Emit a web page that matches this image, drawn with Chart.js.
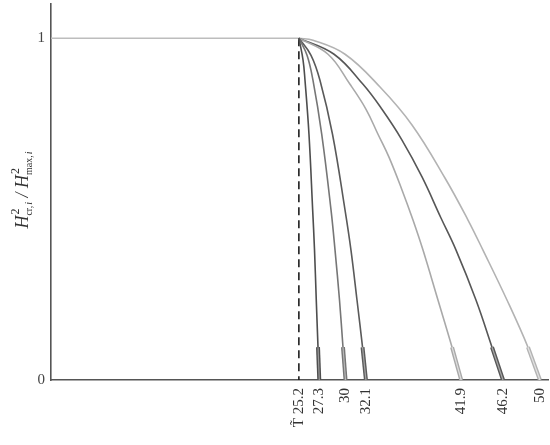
<!DOCTYPE html>
<html>
<head>
<meta charset="utf-8">
<script src="https://cdn.jsdelivr.net/npm/chart.js@4/dist/chart.umd.min.js"></script>
<style>
  html, body { margin: 0; padding: 0; background: #fff; }
  #wrap { width: 550px; height: 445px; }
</style>
</head>
<body>
<div id="wrap"><canvas id="c"></canvas></div>
<script>
// tick positions and labels
const xTicks      = [25.2, 27.3, 30, 32.1, 41.9, 46.2, 50];
const xTickLabels = ['T\u0303 25.2', '27.3', '30', '32.1', '41.9', '46.2', '50'];
const yTicks      = [0, 1];

// flat part and the dashed marker
const plateauX = [-0.3, 25.2];
const plateauY = [1, 1];
const dashX    = [25.2, 25.2];
const dashY    = [1, 0];

// curves
const c273X = [25.2, 25.63, 25.83, 26.24, 26.62, 26.81, 26.99, 27.17, 27.3];
const c273Y = [1, 0.936, 0.877, 0.719, 0.497, 0.380, 0.234, 0.096, 0];
const c30X  = [25.2, 26.04, 26.65, 27.55, 28.51, 28.92, 29.38, 29.74, 30];
const c30Y  = [1, 0.95, 0.877, 0.719, 0.497, 0.380, 0.234, 0.096, 0];
const c321X = [25.2, 26.45, 27.37, 28.66, 29.95, 30.56, 31.18, 31.75, 32.1];
const c321Y = [1, 0.95, 0.877, 0.719, 0.497, 0.380, 0.234, 0.096, 0];
const c419X = [25.2, 28.2, 30.46, 32.11, 33.34, 34.47, 35.81, 36.94, 37.97, 39.51, 40.96, 41.9];
const c419Y = [1, 0.953, 0.865, 0.792, 0.719, 0.652, 0.556, 0.468, 0.380, 0.234, 0.096, 0];
const c462X = [25.2, 28.82, 31.8, 33.75, 35.81, 37.87, 39.82, 41.37, 43.42, 45.07, 46.2];
const c462Y = [1, 0.953, 0.865, 0.792, 0.702, 0.594, 0.474, 0.380, 0.234, 0.096, 0];
const c50X  = [25.2, 26.65, 29.95, 33.55, 36.84, 40.23, 42.6, 44.14, 46.61, 48.77, 50];
const c50Y  = [1, 0.994, 0.953, 0.857, 0.746, 0.591, 0.468, 0.380, 0.234, 0.096, 0];

const curves = [
  { x: c273X, y: c273Y, color: '#4e4e4e', inner: '#9a9a9a' },
  { x: c30X,  y: c30Y,  color: '#767676', inner: '#b8b8b8' },
  { x: c321X, y: c321Y, color: '#5a5a5a', inner: '#a4a4a4' },
  { x: c419X, y: c419Y, color: '#a9a9a9', inner: '#dedede' },
  { x: c462X, y: c462Y, color: '#575757', inner: '#a8a8a8' },
  { x: c50X,  y: c50Y,  color: '#b3b3b3', inner: '#e2e2e2' }
];

const pts = (xs, ys) => xs.map((v, i) => ({ x: v, y: ys[i] }));

const datasets = [
  { data: pts(plateauX, plateauY), borderColor: '#bdbdbd', borderWidth: 1.6, order: 5 },
  { data: pts(dashX, dashY), borderColor: '#1e1e1e', borderWidth: 1.6, borderDash: [8, 5], order: 4 }
];
curves.forEach(c => {
  datasets.push({ data: pts(c.x, c.y), borderColor: c.color, borderWidth: 1.6,
                  tension: 0.4, order: 3 });
  // doubled stroke near the bottom
  datasets.push({ data: pts(c.x.slice(-2), c.y.slice(-2)), borderColor: c.color, borderWidth: 4, order: 2 });
  datasets.push({ data: pts(c.x.slice(-2), c.y.slice(-2)), borderColor: c.inner, borderWidth: 1.2, order: 1 });
});

const serif = "'Liberation Serif', 'DejaVu Serif', serif";

// y axis title with super- and subscripts
const yTitle = {
  id: 'yTitle',
  afterDraw(chart) {
    const ctx = chart.ctx;
    const groups = [
      { base: 'H', sup: '2', sub: 'cr,', subI: 'i' },
      { base: ' / ' },
      { base: 'H', sup: '2', sub: 'max,', subI: 'i' }
    ];
    const bigF = 'italic 18px ' + serif, supF = '12px ' + serif;
    const subF = '10px ' + serif, subIF = 'italic 10px ' + serif;
    ctx.save();
    const widths = groups.map(g => {
      ctx.font = bigF; let w = ctx.measureText(g.base).width;
      if (g.sup) {
        ctx.font = supF; const ws = ctx.measureText(g.sup).width;
        ctx.font = subF; let wb = ctx.measureText(g.sub).width;
        ctx.font = subIF; wb += ctx.measureText(g.subI).width;
        w += Math.max(ws, wb) + 1;
      }
      return w;
    });
    const total = widths.reduce((a, b) => a + b, 0);
    ctx.translate(28, 190);
    ctx.rotate(-Math.PI / 2);
    ctx.fillStyle = '#333';
    ctx.textBaseline = 'alphabetic';
    ctx.textAlign = 'left';
    let x = -total / 2;
    groups.forEach((g, k) => {
      ctx.font = bigF; ctx.fillText(g.base, x, 0);
      const bx = x + ctx.measureText(g.base).width;
      if (g.sup) {
        ctx.font = supF; ctx.fillText(g.sup, bx + 1, -9);
        ctx.font = subF; ctx.fillText(g.sub, bx, 4);
        const w1 = ctx.measureText(g.sub).width;
        ctx.font = subIF; ctx.fillText(g.subI, bx + w1 + 1, 4);
      }
      x += widths[k];
    });
    ctx.restore();
  }
};

// drop the extra room Chart.js keeps for half-labels
const noPad = s => { s.paddingLeft = s.paddingRight = s.paddingTop = s.paddingBottom = 0; };

new Chart(document.getElementById('c'), {
  type: 'line',
  data: { datasets },
  options: {
    responsive: true,
    maintainAspectRatio: false,
    animation: false,
    layout: { padding: { top: 4, right: 2, left: 0, bottom: 0 } },
    elements: { point: { radius: 0 }, line: { fill: false } },
    plugins: { legend: { display: false }, tooltip: { enabled: false } },
    scales: {
      x: {
        type: 'linear', min: -0.3, max: 50.83,
        afterBuildTicks: s => { s.ticks = xTicks.map(v => ({ value: v })); },
        afterFit: s => { s.height = 65; noPad(s); },
        grid: { display: false, drawTicks: false },
        border: { display: true, color: '#555', width: 1.6 },
        ticks: {
          autoSkip: false, minRotation: 90, maxRotation: 90, padding: 8,
          color: '#333', font: { family: serif, size: 15 },
          callback: (v, i) => xTickLabels[i]
        }
      },
      y: {
        type: 'linear', min: 0, max: 1.1,
        afterBuildTicks: s => { s.ticks = yTicks.map(v => ({ value: v })); },
        afterFit: s => { s.width = 51; noPad(s); },
        grid: { display: false, drawTicks: false },
        border: { display: true, color: '#555', width: 1.6 },
        ticks: {
          padding: 6, color: '#444', font: { family: serif, size: 15 },
          callback: (v, i) => String(yTicks[i])
        }
      }
    }
  },
  plugins: [yTitle]
});
</script>
</body>
</html>
